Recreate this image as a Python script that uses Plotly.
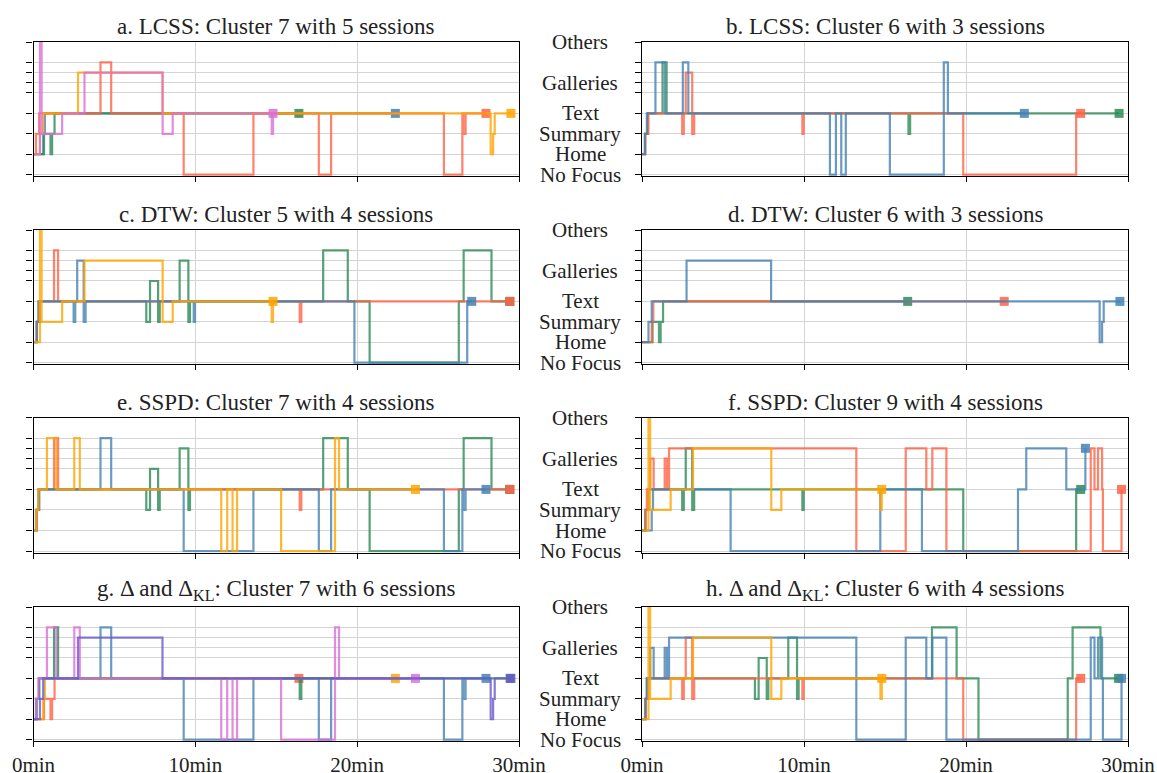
import plotly.graph_objects as go

# Focus levels on the y axis
LEVEL_LABELS = ["No Focus", "Home", "Summary", "Text", "Galleries", "Others"]
LEVEL_VALUES = [0, 1, 2, 3, 4.5, 6.5]
TICK_LEVELS = [0, 1, 2, 3, 4, 4.5, 5, 5.5, 6.5]

X_TICKS = [0, 10, 20, 30]
X_TICK_TEXT = ["0min", "10min", "20min", "30min"]

# Sessions: time (min) of each focus change and the focus level entered
s_a_t = [0, 0.65, 1.05, 1.15, 1.3, 16.4]
s_a_y = [1, 2, 1, 2, 3, 3]

s_b_t = [0, 0.6, 0.7, 22.36]
s_b_y = [1, 2, 3, 3]

s_d_t = [0, 0.4, 0.6, 2.75, 7.97, 28.25, 28.4, 28.5, 29.5]
s_d_y = [1, 2, 3, 5, 3, 1, 2, 3, 3]

s_e_t = [0, 0.4, 0.5, 1.77, 3.15, 7.98, 8.6, 14.72, 14.8]
s_e_y = [1, 6.5, 2, 3, 5, 2, 3, 2, 3]

s_g_t = [0, 0.2, 0.4, 2.48, 2.58, 2.7, 3.1, 3.22, 9.9, 9.98, 19.83, 26.8, 27.08]
s_g_y = [1, 2, 3, 2, 3, 5, 2, 3, 2, 3, 0, 3, 3]

s_h_t = [0, 0.2, 0.35, 1.27, 1.52, 16.45, 16.55, 29.45]
s_h_y = [1, 2, 3, 5.5, 3, 2, 3, 3]

s_j_t = [0, 0.15, 0.35, 4.14, 4.8, 9.28, 13.59, 17.63, 18.39, 25.36, 26.5, 26.56, 26.7, 27.96]
s_j_y = [1, 2, 3, 5.5, 3, 0, 3, 0, 3, 0, 3, 2, 3, 3]

s_k_t = [0, 0.2, 0.3, 6.97, 7.2, 7.7, 7.8, 9.03, 9.57, 9.67, 17.9, 19.42, 20.77, 26.28, 26.58, 28.3, 29.42]
s_k_y = [1, 2, 3, 2, 4, 2, 3, 5, 2, 3, 5.5, 3, 0, 3, 5.5, 3, 3]

s_l_t = [0, 0.17, 0.3, 0.83, 1.41, 2.52, 2.86, 11.6, 11.97, 12.3, 12.58, 15.3, 18.63, 18.88, 23.6]
s_l_y = [1, 2, 3, 5.5, 3, 5.5, 3, 0, 3, 0, 3, 0, 5.5, 3, 3]

s_m_t = [0, 0.23, 0.3, 0.51, 0.72, 1.4, 1.54, 1.67, 13.23, 16.28, 17.55, 17.92, 18.79,
         27.7, 27.93, 28.15, 28.4, 28.45, 29.6]
s_m_y = [1, 2, 3, 4.5, 3, 4.5, 3, 5, 0, 5, 3, 5, 0, 5, 3, 5, 3, 0, 3]

s_n_t = [0, 0.6, 0.68, 5.47, 14.71, 17.28, 23.21, 23.72, 26.19, 27.37]
s_n_y = [1, 2, 3, 0, 3, 0, 3, 5, 3, 5]

SESSIONS = {
    "a": (s_a_t, s_a_y), "b": (s_b_t, s_b_y), "d": (s_d_t, s_d_y),
    "e": (s_e_t, s_e_y), "g": (s_g_t, s_g_y), "h": (s_h_t, s_h_y),
    "j": (s_j_t, s_j_y), "k": (s_k_t, s_k_y), "l": (s_l_t, s_l_y),
    "m": (s_m_t, s_m_y), "n": (s_n_t, s_n_y),
}

COLORS = {
    "blue": "#4682b4", "red": "#ff6347", "green": "#2e8b57",
    "orange": "#ffa500", "pink": "#da70d6", "purple": "#6a5acd",
}

PANEL_TITLES = [
    "a. LCSS: Cluster 7 with 5 sessions",
    "b. LCSS: Cluster 6 with 3 sessions",
    "c. DTW: Cluster 5 with 4 sessions",
    "d. DTW: Cluster 6 with 3 sessions",
    "e. SSPD: Cluster 7 with 4 sessions",
    "f. SSPD: Cluster 9 with 4 sessions",
    "g. Δ and Δ<sub>KL</sub>: Cluster 7 with 6 sessions",
    "h. Δ and Δ<sub>KL</sub>: Cluster 6 with 4 sessions",
]

# (session, colour) in drawing order for each cluster panel
PANEL_SESSIONS = [
    [("b", "blue"), ("a", "green"), ("j", "red"), ("d", "orange"), ("e", "pink")],
    [("h", "green"), ("g", "red"), ("l", "blue")],
    [("k", "green"), ("h", "red"), ("g", "blue"), ("e", "orange")],
    [("a", "green"), ("b", "red"), ("d", "blue")],
    [("k", "green"), ("h", "red"), ("j", "blue"), ("l", "orange")],
    [("g", "green"), ("m", "red"), ("n", "blue"), ("e", "orange")],
    [("a", "red"), ("b", "orange"), ("h", "green"), ("j", "blue"), ("l", "pink"), ("d", "purple")],
    [("k", "green"), ("g", "red"), ("m", "blue"), ("e", "orange")],
]

W, H = 1157, 773
COL_X = [(33.5 / W, 519 / W), (642 / W, 1128 / W)]
ROW_Y = [(1 - 176 / H, 1 - 42 / H), (1 - 364 / H, 1 - 230 / H),
         (1 - 552.5 / H, 1 - 417.5 / H), (1 - 741 / H, 1 - 607 / H)]

FONT = "Liberation Serif"
TEXT_COLOR = "#222222"

fig = go.Figure()
layout = dict(
    template="none",
    width=W, height=H, margin=dict(l=0, r=0, t=0, b=0, autoexpand=False),
    paper_bgcolor="white", plot_bgcolor="white", showlegend=False,
    font=dict(family=FONT, size=21, color=TEXT_COLOR),
)
annotations = []

for i, title in enumerate(PANEL_TITLES):
    row, col = divmod(i, 2)
    k = i + 1
    xname = "x" if k == 1 else f"x{k}"
    yname = "y" if k == 1 else f"y{k}"

    for key, cname in PANEL_SESSIONS[i]:
        t, lv = SESSIONS[key]
        color = COLORS[cname]
        fig.add_trace(go.Scatter(
            x=t, y=lv, mode="lines", line_shape="hv",
            line=dict(color=color, width=2.2), opacity=0.8,
            xaxis=xname, yaxis=yname, hoverinfo="skip",
        ))
        fig.add_trace(go.Scatter(
            x=[t[-1]], y=[lv[-1]], mode="markers",
            marker=dict(symbol="square", size=9, color=color, line=dict(width=0)),
            opacity=0.85, xaxis=xname, yaxis=yname, hoverinfo="skip",
        ))

    bottom = row == 3
    xaxis = dict(
        domain=list(COL_X[col]), anchor=yname, range=[0, 30], automargin=False,
        tickmode="array", tickvals=X_TICKS,
        showticklabels=bottom, ticks="outside", ticklen=5, tickwidth=1.2,
        tickcolor="#000", showline=True, linecolor="#000", linewidth=1.3,
        mirror=True, showgrid=True, gridcolor="#d4d4d4", gridwidth=1.2,
        zeroline=False, tickfont=dict(family=FONT, size=21, color=TEXT_COLOR),
    )
    if bottom:
        xaxis["ticktext"] = X_TICK_TEXT
    layout["xaxis" if k == 1 else f"xaxis{k}"] = xaxis
    layout["yaxis" if k == 1 else f"yaxis{k}"] = dict(
        domain=list(ROW_Y[row]), anchor=xname, range=[-0.07, 6.5], automargin=False,
        tickmode="array", tickvals=TICK_LEVELS, showticklabels=False,
        ticks="outside", ticklen=6, tickwidth=1.2, tickcolor="#000",
        showline=True, linecolor="#000", linewidth=1.3, mirror=True,
        showgrid=True, gridcolor="#d4d4d4", gridwidth=1.2, zeroline=False,
    )

    annotations.append(dict(
        text=title, xref="paper", yref="paper",
        x=(COL_X[col][0] + COL_X[col][1]) / 2, y=ROW_Y[row][1],
        xanchor="center", yanchor="bottom", yshift=1, showarrow=False,
        font=dict(family=FONT, size=23, color=TEXT_COLOR),
    ))

    # focus level names sit centred in the gap between the two columns
    if col == 1:
        for name, val in zip(LEVEL_LABELS, LEVEL_VALUES):
            annotations.append(dict(
                text=name, xref="paper", yref=yname,
                x=580 / W, y=val, xanchor="center", yanchor="middle",
                showarrow=False,
                font=dict(family=FONT, size=21, color=TEXT_COLOR),
            ))

layout["annotations"] = annotations
fig.update_layout(**layout)
fig.write_html("out.html")
